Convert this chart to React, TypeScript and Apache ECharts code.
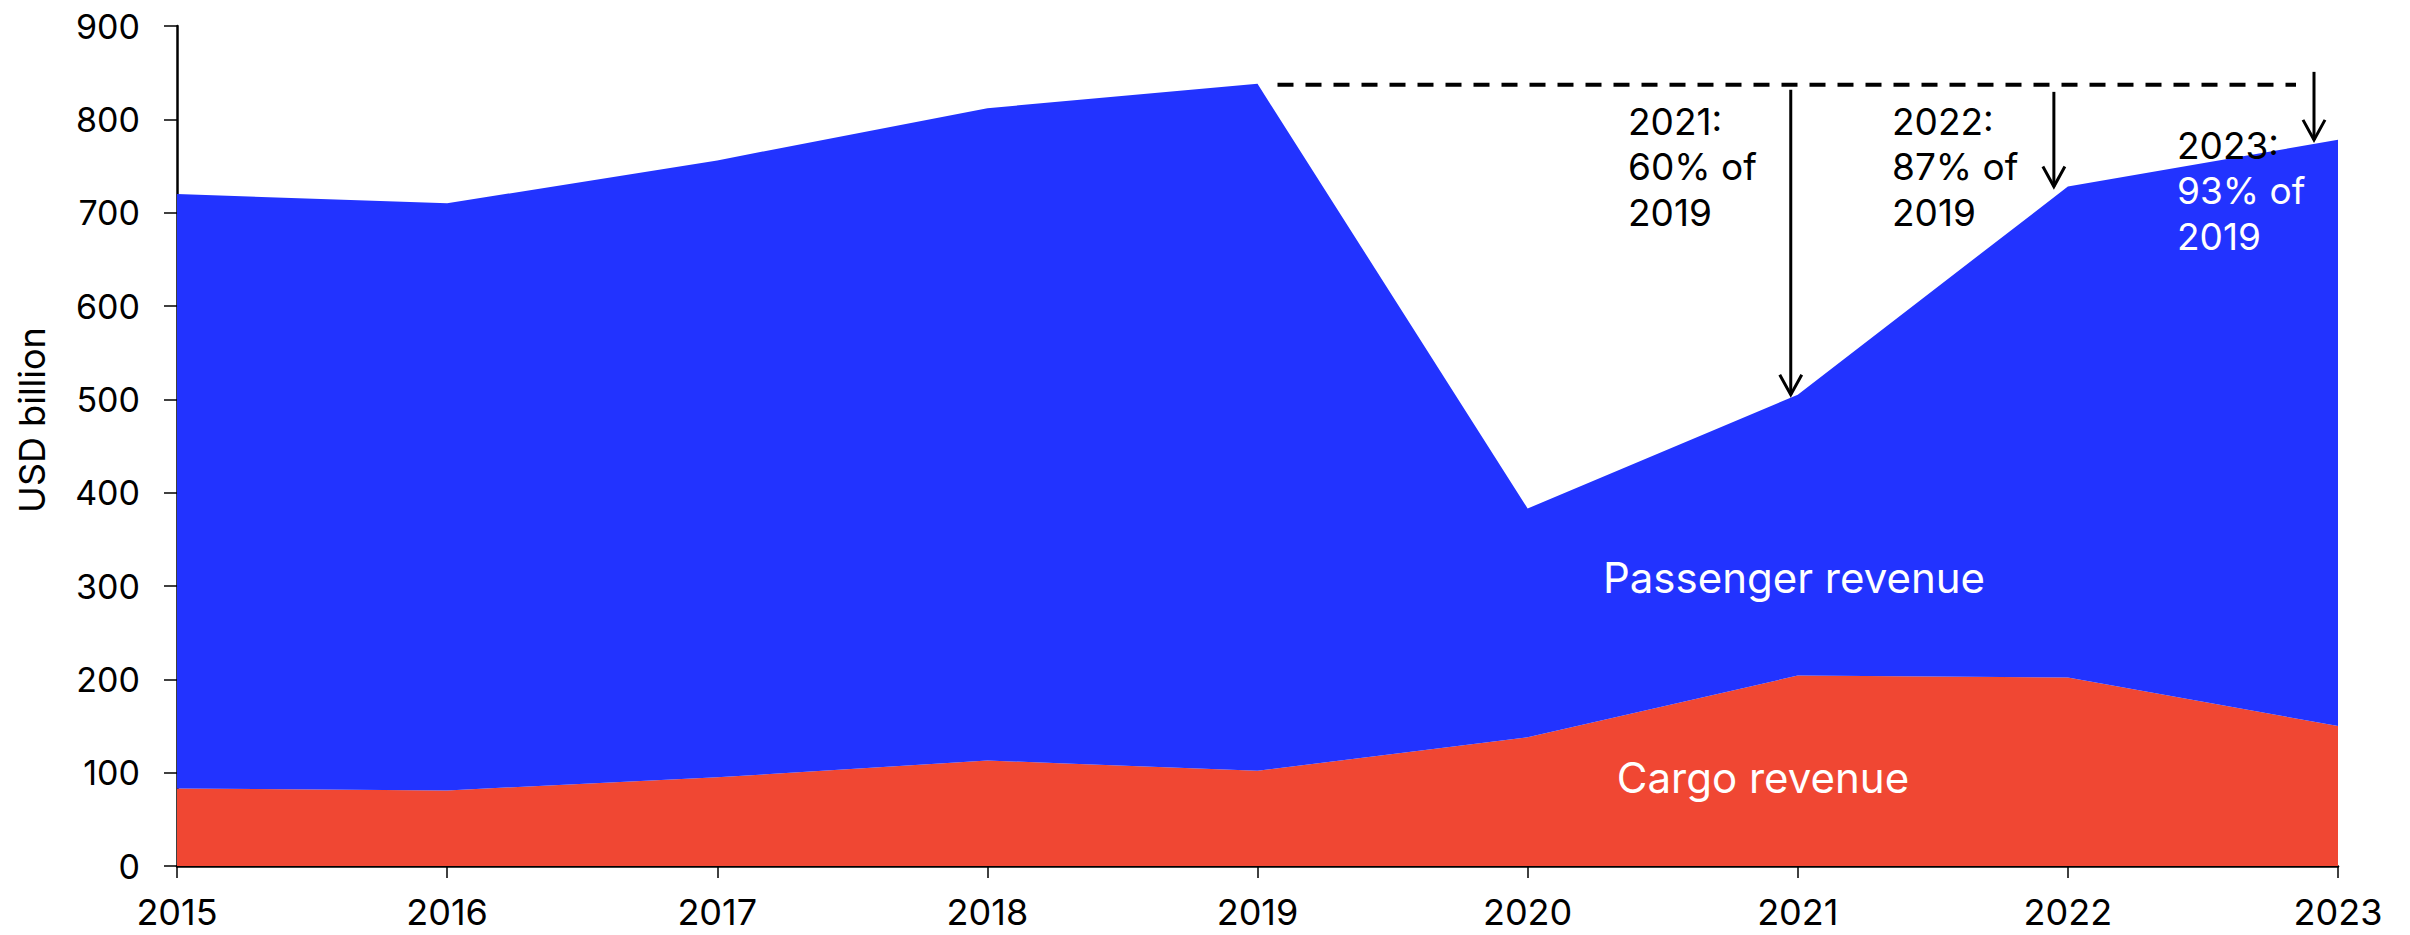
import React, { useEffect, useRef } from "react";
import * as echarts from "echarts";

const years = ["2015", "2016", "2017", "2018", "2019", "2020", "2021", "2022", "2023"];
const cargoRevenue = [83, 81, 95, 113, 102, 138, 204, 202, 150];
const passengerRevenue = [637, 629, 661, 699, 736, 245, 301, 526, 628];
const yTicks = { min: 0, max: 900, interval: 100 };

const annotYears = ["2021", "2022", "2023"];
const annotPct = ["60%", "87%", "93%"];

const BLUE = "#2233ff";
const RED = "#f04733";
const FONT = "Inter, 'Liberation Sans', Arial, sans-serif";

export default function App() {
  const ref = useRef<HTMLDivElement>(null);

  useEffect(() => {
    document.body.style.margin = "0";
    if (!ref.current) return;
    const chart = echarts.init(ref.current, undefined, { renderer: "svg" });
    chart.setOption({
      animation: false,
      backgroundColor: "#ffffff",
      grid: { left: 177, right: 72, top: 26, bottom: 69 },
      xAxis: {
        type: "category",
        data: years,
        boundaryGap: false,
        axisLine: { lineStyle: { color: "#000", width: 2.5 } },
        axisTick: { show: true, length: 12, lineStyle: { color: "#000", width: 1.5 } },
        axisLabel: { color: "#000", fontSize: 36, fontFamily: FONT, margin: 28 },
        splitLine: { show: false },
      },
      yAxis: {
        type: "value",
        min: yTicks.min,
        max: yTicks.max,
        interval: yTicks.interval,
        axisLine: { show: true, lineStyle: { color: "#000", width: 2.5 } },
        axisTick: { show: true, length: 13, lineStyle: { color: "#000", width: 1.5 } },
        axisLabel: { color: "#000", fontSize: 34, fontFamily: FONT, margin: 37 },
        splitLine: { show: false },
      },
      series: [
        {
          name: "Cargo revenue",
          type: "line",
          stack: "total",
          data: cargoRevenue,
          showSymbol: false,
          lineStyle: { width: 0 },
          areaStyle: { color: RED, opacity: 1 },
          itemStyle: { color: RED },
          z: 2,
        },
        {
          name: "Passenger revenue",
          type: "line",
          stack: "total",
          data: passengerRevenue,
          showSymbol: false,
          lineStyle: { width: 0 },
          areaStyle: { color: BLUE, opacity: 1 },
          itemStyle: { color: BLUE },
          z: 2,
        },
      ],
    });

    const totals = years.map((_, i) => cargoRevenue[i] + passengerRevenue[i]);
    const base = totals[years.indexOf("2019")];
    const px = (cat: string, v: number) =>
      chart.convertToPixel({ xAxisIndex: 0, yAxisIndex: 0 }, [cat, v]) as number[];

    const p2019 = px("2019", base);
    const pEnd = px("2023", base);
    const baseY = p2019[1];

    const graphic: any[] = [];
    graphic.push({
      type: "line",
      shape: { x1: p2019[0] + 20, y1: baseY + 1, x2: pEnd[0] - 42, y2: baseY + 1 },
      style: { stroke: "#000", lineWidth: 4, lineDash: [16, 12] },
      z: 10,
    });

    const arrowDx = [-7, -14, -24];
    const arrowTop = [6, 8, -12];
    annotYears.forEach((yr, k) => {
      const i = years.indexOf(yr);
      const tip = px(yr, totals[i]);
      const x = tip[0] + arrowDx[k];
      const y = tip[1];
      graphic.push({
        type: "line",
        shape: { x1: x, y1: baseY + arrowTop[k], x2: x, y2: y },
        style: { stroke: "#000", lineWidth: 3 },
        z: 10,
      });
      graphic.push({
        type: "polyline",
        shape: { points: [[x - 11, y - 20], [x, y], [x + 11, y - 20]] },
        style: { stroke: "#000", lineWidth: 3, fill: null },
        z: 10,
      });
    });

    const textPos = [
      { x: 1628, y: 121, colors: ["#000", "#000", "#000"] },
      { x: 1892, y: 121, colors: ["#000", "#000", "#000"] },
      { x: 2177, y: 145, colors: ["#000", "#fff", "#fff"] },
    ];
    annotYears.forEach((yr, k) => {
      const lines = [yr + ":", annotPct[k] + " of", "2019"];
      lines.forEach((t, j) => {
        graphic.push({
          type: "text",
          x: textPos[k].x,
          y: textPos[k].y + j * 45.5,
          style: {
            text: t,
            fill: textPos[k].colors[j],
            fontSize: 37,
            fontFamily: FONT,
            align: "left",
            verticalAlign: "middle",
          },
          z: 11,
        });
      });
    });

    graphic.push({
      type: "text",
      x: 1794,
      y: 577,
      style: { text: "Passenger revenue", fill: "#fff", fontSize: 42, fontFamily: FONT, align: "center", verticalAlign: "middle" },
      z: 11,
    });
    graphic.push({
      type: "text",
      x: 1763,
      y: 777,
      style: { text: "Cargo revenue", fill: "#fff", fontSize: 42, fontFamily: FONT, align: "center", verticalAlign: "middle" },
      z: 11,
    });
    graphic.push({
      type: "text",
      x: 32,
      y: 420,
      rotation: Math.PI / 2,
      style: { text: "USD billion", fill: "#000", fontSize: 36, fontFamily: FONT, align: "center", verticalAlign: "middle" },
      z: 11,
    });

    chart.setOption({ graphic });

    return () => chart.dispose();
  }, []);

  return <div ref={ref} style={{ width: 2410, height: 935 }} />;
}
